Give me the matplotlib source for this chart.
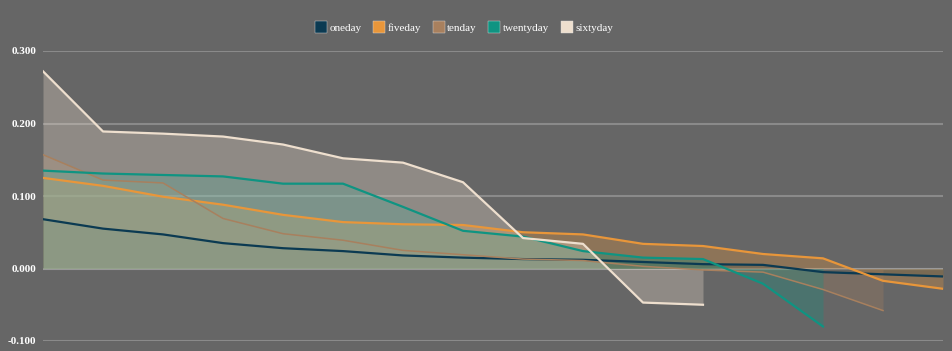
import matplotlib.pyplot as plt
import numpy as np

# values, sorted from largest to smallest per series
oneday = [0.068, 0.055, 0.047, 0.035, 0.028, 0.024, 0.018, 0.015, 0.013,
          0.012, 0.009, 0.006, 0.005, -0.005, -0.008, -0.011]
fiveday = [0.125, 0.114, 0.099, 0.088, 0.074, 0.064, 0.061, 0.060, 0.050,
           0.047, 0.034, 0.031, 0.020, 0.014, -0.017, -0.028]
tenday = [0.157, 0.122, 0.118, 0.069, 0.048, 0.039, 0.025, 0.019, 0.013,
          0.011, 0.003, -0.002, -0.005, -0.029, -0.058]
twentyday = [0.135, 0.131, 0.129, 0.127, 0.117, 0.117, 0.085, 0.052, 0.044,
             0.024, 0.015, 0.013, -0.021, -0.080]
sixtyday = [0.272, 0.189, 0.186, 0.182, 0.171, 0.152, 0.146, 0.119, 0.042,
            0.034, -0.047, -0.050]

names = ["oneday", "fiveday", "tenday", "twentyday", "sixtyday"]
colors = ["#0b3a52", "#e8963a", "#a8805e", "#0f9482", "#eedfce"]
yticks = [-0.1, 0.0, 0.1, 0.2, 0.3]

BG = "#666666"
plt.rcParams['font.family'] = ['Liberation Serif', 'DejaVu Serif']

fig = plt.figure(figsize=(9.53, 3.51), dpi=100, facecolor=BG)
ax = fig.add_axes([43/953, 10/351, 900/953, 290/351])
ax.set_facecolor(BG)

for y in yticks:
	gc = "#8a8a8a" if y != 0 else "#9a9a9a"
	ax.axhline(y, color=gc, linewidth=1.5, zorder=0)

series = [oneday, fiveday, tenday, twentyday, sixtyday]
for name, vals, c in zip(names, series, colors):
	x = np.arange(len(vals))
	ax.fill_between(x, 0, vals, color=c, alpha=0.3, linewidth=0, zorder=1)
	lw = 1.1 if name == "tenday" else 1.6
	ax.plot(x, vals, color=c, linewidth=lw, zorder=2, label=name)

ax.set_xlim(0, 15)
ax.set_ylim(-0.1, 0.3)
ax.set_yticks(yticks)
ax.set_yticklabels(["%.3f" % v for v in yticks], color="white", fontsize=8,
	fontweight="bold")
ax.set_xticks([])
ax.tick_params(axis="y", length=0, pad=5)
for s in ax.spines.values():
	s.set_visible(False)

handles = [plt.Line2D([], [], marker="s", linestyle="none", markersize=8.5,
	markerfacecolor=c, markeredgecolor="#dddddd", markeredgewidth=0.3) for c in colors]
leg = fig.legend(handles, names, loc="center", bbox_to_anchor=(0.487, 0.921), ncol=5,
	frameon=False, fontsize=8, handletextpad=0.25, columnspacing=1.1,
	handlelength=1.0)
for t in leg.get_texts():
	t.set_color("white")

fig.savefig("out.png", dpi=100, facecolor=BG)
